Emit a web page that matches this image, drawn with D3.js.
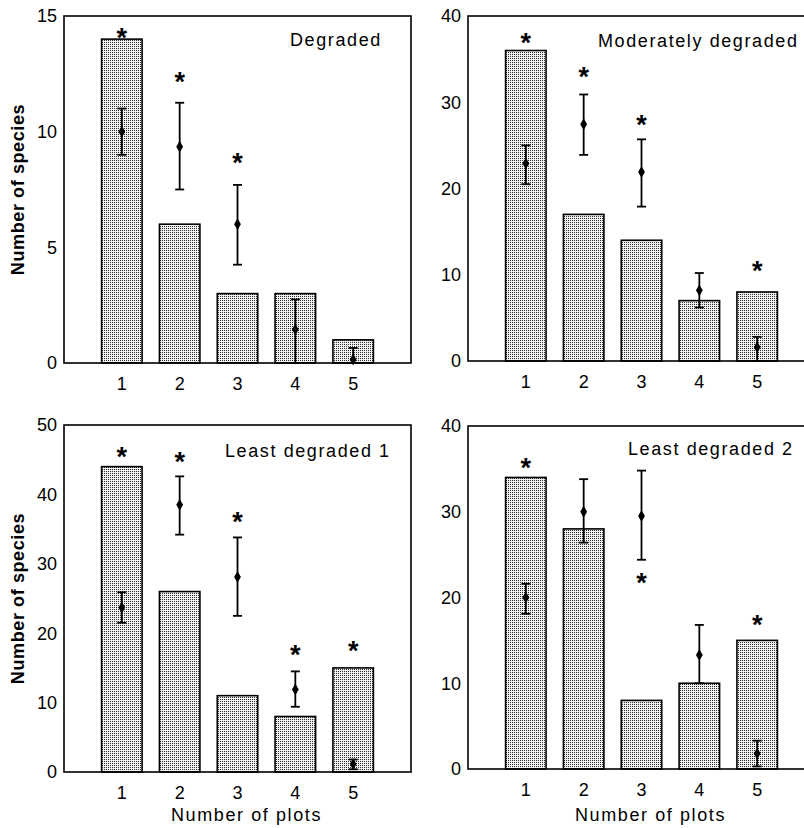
<!DOCTYPE html>
<html>
<head>
<meta charset="utf-8">
<script src="https://cdn.jsdelivr.net/npm/d3@7"></script>
<style>
body { margin: 0; background: #fff; }
text { font-family: "Liberation Sans", Arial, sans-serif; fill: #000; }
</style>
</head>
<body>
<script>
let plots = [1, 2, 3, 4, 5]
let titles = ["Degraded", "Moderately degraded", "Least degraded 1", "Least degraded 2"]
let yMax = [15, 40, 50, 40]
let yTicks = [[0, 5, 10, 15], [0, 10, 20, 30, 40], [0, 10, 20, 30, 40, 50], [0, 10, 20, 30, 40]]

// observed number of species per number of plots
let degradedBars = [14, 6, 3, 3, 1]
let moderateBars = [36, 17, 14, 7, 8]
let least1Bars = [44, 26, 11, 8, 15]
let least2Bars = [34, 28, 8, 10, 15]

// expected (mean, low, high)
let degradedMean = [10, 9.35, 6, 1.45, 0.15]
let degradedLo = [9, 7.5, 4.25, 0, 0]
let degradedHi = [11, 11.25, 7.7, 2.75, 0.65]
let moderateMean = [22.9, 27.45, 21.9, 8.2, 1.6]
let moderateLo = [20.5, 23.9, 17.9, 6.2, 0]
let moderateHi = [25, 30.9, 25.7, 10.2, 2.8]
let least1Mean = [23.7, 38.5, 28.1, 11.9, 1.15]
let least1Lo = [21.5, 34.2, 22.5, 9.4, 0.4]
let least1Hi = [25.9, 42.6, 33.8, 14.5, 1.8]
let least2Mean = [20, 30, 29.5, 13.3, 1.8]
let least2Lo = [18.1, 26.4, 24.4, 10, 0.3]
let least2Hi = [21.6, 33.8, 34.8, 16.8, 3.3]

// asterisk positions (null = none)
let degradedStar = [14.3, 12.4, 8.9, null, null]
let moderateStar = [37.6, 33.6, 28.1, null, 11.1]
let least1Star = [46.2, 45.5, 36.9, 17.7, 18.3]
let least2Star = [35.8, null, 22.4, null, 17.5]

let panels = [
    {bars: degradedBars, mean: degradedMean, lo: degradedLo, hi: degradedHi, star: degradedStar},
    {bars: moderateBars, mean: moderateMean, lo: moderateLo, hi: moderateHi, star: moderateStar},
    {bars: least1Bars, mean: least1Mean, lo: least1Lo, hi: least1Hi, star: least1Star},
    {bars: least2Bars, mean: least2Mean, lo: least2Lo, hi: least2Hi, star: least2Star}
]

let boxes = [
    {left: 64, top: 16, bottom: 363, titleX: 226, titleY: 46},
    {left: 468, top: 16, bottom: 361, titleX: 130, titleY: 47},
    {left: 64, top: 425, bottom: 772, titleX: 161, titleY: 457},
    {left: 468, top: 426, bottom: 769, titleX: 160, titleY: 455}
]
let w = 347
let barW = 0.7

let svg = d3.select("body")
    .append("svg")
    .attr("width", 804)
    .attr("height", 828)

let pat = svg.append("defs").append("pattern")
    .attr("id", "dots")
    .attr("patternUnits", "userSpaceOnUse")
    .attr("width", 2)
    .attr("height", 2)
pat.append("rect").attr("width", 2).attr("height", 2).attr("fill", "#f2f2f2")
pat.append("rect").attr("width", 1).attr("height", 1).attr("fill", "#2a2a2a")

panels.forEach((p, k) => {
    let b = boxes[k]
    let h = b.bottom - b.top
    let x = d3.scaleLinear().domain([0, 6]).range([0, w])
    let y = d3.scaleLinear().domain([0, yMax[k]]).range([h, 0])
    let g = svg.append("g").attr("transform", `translate(${b.left},${b.top})`)

    g.selectAll("rect.bar")
        .data(p.bars)
        .enter()
        .append("rect")
        .attr("class", "bar")
        .attr("x", (d, i) => x(plots[i] - barW / 2))
        .attr("y", d => y(d))
        .attr("width", x(barW) - x(0))
        .attr("height", d => h - y(d))
        .attr("fill", "url(#dots)")
        .attr("stroke", "#000")
        .attr("stroke-width", 1.6)

    // frame
    g.append("rect")
        .attr("width", w)
        .attr("height", h)
        .attr("fill", "none")
        .attr("stroke", "#000")
        .attr("stroke-width", 1.6)

    let err = g.selectAll("g.err")
        .data(p.mean)
        .enter()
        .append("g")
        .attr("class", "err")
    err.append("line")
        .attr("x1", (d, i) => x(plots[i])).attr("x2", (d, i) => x(plots[i]))
        .attr("y1", (d, i) => y(p.lo[i])).attr("y2", (d, i) => y(p.hi[i]))
        .attr("stroke", "#000").attr("stroke-width", 1.8)
    err.append("line")
        .attr("x1", (d, i) => x(plots[i]) - 4.5).attr("x2", (d, i) => x(plots[i]) + 4.5)
        .attr("y1", (d, i) => y(p.hi[i])).attr("y2", (d, i) => y(p.hi[i]))
        .attr("stroke", "#000").attr("stroke-width", 1.8)
    err.append("line")
        .attr("x1", (d, i) => x(plots[i]) - 4.5).attr("x2", (d, i) => x(plots[i]) + 4.5)
        .attr("y1", (d, i) => y(p.lo[i])).attr("y2", (d, i) => y(p.lo[i]))
        .attr("stroke", "#000").attr("stroke-width", 1.8)
    err.append("path")
        .attr("d", d3.symbol(d3.symbolDiamond, 40))
        .attr("transform", (d, i) => `translate(${x(plots[i])},${y(d)})`)
        .attr("fill", "#000")

    g.selectAll("text.star")
        .data(p.star.map((s, i) => ({s: s, i: i})).filter(d => d.s != null))
        .enter()
        .append("text")
        .attr("class", "star")
        .attr("x", d => x(plots[d.i]))
        .attr("y", d => y(d.s) + 15)
        .attr("text-anchor", "middle")
        .style("font-size", "27px")
        .style("font-weight", "bold")
        .text("*")

    g.selectAll("text.ytick")
        .data(yTicks[k])
        .enter()
        .append("text")
        .attr("class", "ytick")
        .attr("x", -7)
        .attr("y", d => y(d))
        .attr("dy", "0.36em")
        .attr("text-anchor", "end")
        .style("font-size", "18px")
        .text(d => d)

    g.selectAll("text.xtick")
        .data(plots)
        .enter()
        .append("text")
        .attr("class", "xtick")
        .attr("x", d => x(d))
        .attr("y", h + 27)
        .attr("text-anchor", "middle")
        .style("font-size", "18px")
        .text(d => d)

    g.append("text")
        .attr("x", b.titleX)
        .attr("y", b.titleY - b.top)
        .style("font-size", "18px")
        .style("letter-spacing", "1.6px")
        .text(titles[k])

    if (k % 2 == 0) {
        g.append("text")
            .attr("transform", `translate(${24 - b.left},${h / 2}) rotate(-90)`)
            .attr("text-anchor", "middle")
            .style("font-size", "18px")
            .style("font-weight", "bold")
            .style("letter-spacing", "0.6px")
            .text("Number of species")
    }
    if (k >= 2) {
        g.append("text")
            .attr("x", w / 2 + 9)
            .attr("y", 821 - b.top)
            .attr("text-anchor", "middle")
            .style("font-size", "18px")
            .style("letter-spacing", "1.6px")
            .text("Number of plots")
    }
})
</script>
</body>
</html>
